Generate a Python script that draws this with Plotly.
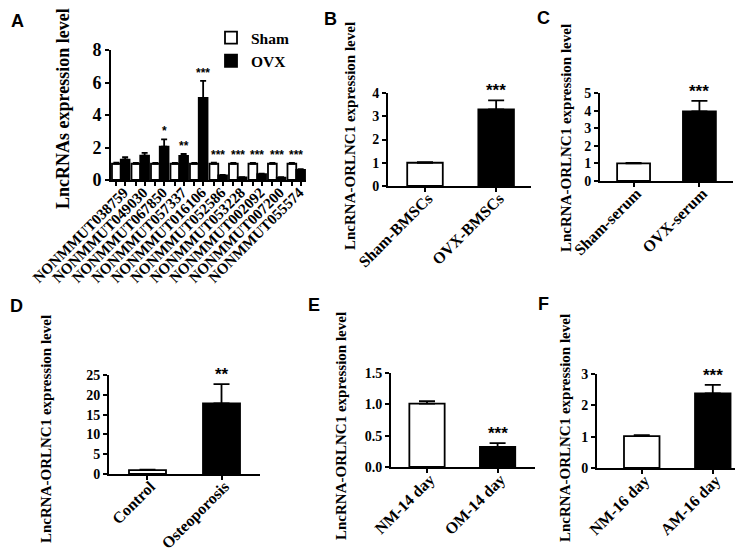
import plotly.graph_objects as go

W, H = 743, 552

# ---------------- data ----------------
lnc_names = ["NONMMUT038759", "NONMMUT049030", "NONMMUT067850", "NONMMUT057337",
             "NONMMUT016106", "NONMMUT052586", "NONMMUT053228", "NONMMUT002092",
             "NONMMUT007200", "NONMMUT055574"]
sham_a = [1.0, 1.0, 1.0, 1.0, 1.0, 1.0, 1.0, 1.0, 1.0, 1.0]
sham_a_err = [0.07, 0.05, 0.05, 0.05, 0.05, 0.07, 0.05, 0.05, 0.05, 0.06]
ovx_a = [1.25, 1.5, 2.05, 1.48, 5.05, 0.29, 0.16, 0.36, 0.15, 0.62]
ovx_a_err = [0.15, 0.17, 0.45, 0.12, 1.05, 0.03, 0.02, 0.03, 0.02, 0.05]
sig_a = ["", "", "*", "**", "***", "***", "***", "***", "***", "***"]

b_cats = ["Sham-BMSCs", "OVX-BMSCs"]
b_vals = [1.0, 3.3]
b_err = [0.03, 0.38]
b_sig = "***"

c_cats = ["Sham-serum", "OVX-serum"]
c_vals = [1.0, 3.95]
c_err = [0.03, 0.6]
c_sig = "***"

d_cats = ["Control", "Osteoporosis"]
d_vals = [1.0, 17.8]
d_err = [0.1, 4.9]
d_sig = "**"

e_cats = ["NM-14 day", "OM-14 day"]
e_vals = [1.01, 0.32]
e_err = [0.04, 0.06]
e_sig = "***"

f_cats = ["NM-16 day", "AM-16 day"]
f_vals = [1.02, 2.38]
f_err = [0.03, 0.27]
f_sig = "***"

ytitle_a = "LncRNAs expression level"
ytitle = "LncRNA-ORLNC1 expression level"

# ---------------- helpers ----------------
def px(x):
    return x / W

def py(y):
    return 1 - y / H

SERIF = "Liberation Serif"
SANS = "Liberation Sans"
BLACK = "#000000"
bar_fill = ["#ffffff", "#000000"]
LW = 1.8

fig = go.Figure()

# ---- Panel A ----
idx = list(range(len(lnc_names)))
fig.add_trace(go.Bar(
    x=idx, y=sham_a, name="Sham", xaxis="x", yaxis="y",
    marker=dict(color="#ffffff", line=dict(color=BLACK, width=LW)),
    error_y=dict(type="data", array=sham_a_err, arrayminus=[0] * len(sham_a),
                 symmetric=False, color=BLACK, thickness=LW, width=3),
))
fig.add_trace(go.Bar(
    x=idx, y=ovx_a, name="OVX", xaxis="x", yaxis="y",
    marker=dict(color="#000000", line=dict(color=BLACK, width=LW)),
    error_y=dict(type="data", array=ovx_a_err, arrayminus=[0] * len(ovx_a),
                 symmetric=False, color=BLACK, thickness=LW, width=3),
))

bargap_a = 0.1
half = (1 - bargap_a) / 4
minor_ticks = []
for i in idx:
    minor_ticks += [i - half, i + half]

# ---- Panels B-F ----
panels = [
    ("x2", "y2", b_cats, b_vals, b_err, b_sig),
    ("x3", "y3", c_cats, c_vals, c_err, c_sig),
    ("x4", "y4", d_cats, d_vals, d_err, d_sig),
    ("x5", "y5", e_cats, e_vals, e_err, e_sig),
    ("x6", "y6", f_cats, f_vals, f_err, f_sig),
]
for xa, ya, cats, vals, errs, sig in panels:
    fig.add_trace(go.Bar(
        x=cats, y=vals, xaxis=xa, yaxis=ya, width=0.5, showlegend=False,
        marker=dict(color=bar_fill, line=dict(color=BLACK, width=LW)),
        error_y=dict(type="data", array=errs, arrayminus=[0] * len(errs),
                     symmetric=False, color=BLACK, thickness=LW, width=8),
    ))

# ---------------- axes ----------------
def axis_style(**kw):
    d = dict(showline=True, linecolor=BLACK, linewidth=LW, ticks="outside",
             ticklen=4, tickwidth=LW, tickcolor=BLACK, showgrid=False,
             zeroline=False, fixedrange=True, automargin=False,
             ticklabeloverflow="allow")
    d.update(kw)
    return d

# pixel boxes: (left, right, top, bottom)
boxA = (103, 298, 42, 172)
boxes = {
    "2": (380, 523, 85, 178),
    "3": (592, 725, 85, 173),
    "4": (101, 252, 367, 466),
    "5": (383, 527, 365, 459),
    "6": (589, 741, 366, 460),
}
xranges = {
    "2": [-0.52, 1.49],
    "3": [-0.51, 1.51],
    "4": [-0.52, 1.52],
    "5": [-0.51, 1.53],
    "6": [-0.63, 1.51],
}
yaxes_cfg = {
    "2": dict(range=[0, 4], dtick=1, tick0=0),
    "3": dict(range=[0, 5], dtick=1, tick0=0),
    "4": dict(range=[0, 25], dtick=5, tick0=0),
    "5": dict(range=[0, 1.5], dtick=0.5, tick0=0, tickformat=".1f"),
    "6": dict(range=[0, 3], dtick=1, tick0=0),
}

layout = dict(
    width=W, height=H, margin=dict(l=0, r=0, t=0, b=0, autoexpand=False),
    paper_bgcolor="white", plot_bgcolor="white",
    barmode="group", bargap=bargap_a, bargroupgap=0,
    showlegend=True,
    legend=dict(x=px(203), y=py(13), xanchor="left", yanchor="top",
                font=dict(family=SERIF, size=15.5, color=BLACK, weight="bold"),
                bgcolor="rgba(0,0,0,0)", traceorder="normal"),
)

l, r, t, b = boxA
layout["xaxis"] = axis_style(
    domain=[px(l), px(r)], anchor="y", type="linear", range=[-0.5, 9.5],
    tickmode="array", tickvals=idx, ticktext=lnc_names, ticks="",
    tickangle=-45, ticklabelstandoff=-4, ticklabelshift=3,
    tickfont=dict(family=SERIF, size=15, color=BLACK, weight="bold"),
    minor=dict(tickmode="array", tickvals=minor_ticks, ticks="outside",
               ticklen=4, tickwidth=LW, tickcolor=BLACK, showgrid=False),
)
layout["yaxis"] = axis_style(
    domain=[py(b), py(t)], anchor="x", range=[0, 8], dtick=2, tick0=0,
    tickfont=dict(family=SERIF, size=18, color=BLACK, weight="bold"),
)

for k, (l, r, t, b) in boxes.items():
    layout["xaxis" + k] = axis_style(
        domain=[px(l), px(r)], anchor="y" + k, type="category",
        range=xranges[k], tickangle=-45, ticklabelstandoff=-9, ticklabelshift=3,
        tickfont=dict(family=SERIF, size=16, color=BLACK, weight="bold"),
    )
    yc = axis_style(
        domain=[py(b), py(t)], anchor="x" + k,
        tickfont=dict(family=SERIF, size=14, color=BLACK, weight="bold"),
    )
    yc.update(yaxes_cfg[k])
    layout["yaxis" + k] = yc

fig.update_layout(**layout)

# ---------------- annotations ----------------
ann = []
# panel letters
for letter, (x, y) in {"A": (9, 13), "B": (322, 11), "C": (535, 10),
                       "D": (8, 298), "E": (306, 297), "F": (535, 296)}.items():
    ann.append(dict(text=letter, x=px(x), y=py(y), xref="paper", yref="paper",
                    xanchor="center", yanchor="middle", showarrow=False,
                    font=dict(family=SANS, size=18, color=BLACK, weight="bold")))

# y titles
ann.append(dict(text=ytitle_a, x=px(55), y=py(101), xref="paper", yref="paper",
                textangle=-90, xanchor="center", yanchor="middle", showarrow=False,
                font=dict(family=SERIF, size=18, color=BLACK, weight="bold")))
for (x, y) in [(342, 128), (558, 130), (38, 421), (333, 418), (557, 420)]:
    ann.append(dict(text=ytitle, x=px(x), y=py(y), xref="paper", yref="paper",
                    textangle=-90, xanchor="center", yanchor="middle", showarrow=False,
                    font=dict(family=SERIF, size=15, color=BLACK, weight="bold")))

# significance stars panel A
for i in idx:
    if not sig_a[i]:
        continue
    top = max(sham_a[i] + sham_a_err[i], ovx_a[i] + ovx_a_err[i])
    off = half if ovx_a[i] > sham_a[i] else 0
    ann.append(dict(text=sig_a[i], x=i + off, y=top, xref="x", yref="y",
                    xanchor="center", yanchor="bottom", yshift=-1, showarrow=False,
                    font=dict(family=SANS, size=12, color=BLACK, weight="bold")))

# significance stars panels B-F
for xa, ya, cats, vals, errs, sig in panels:
    ann.append(dict(text=sig, x=cats[1], y=vals[1] + errs[1], xref=xa, yref=ya,
                    xanchor="center", yanchor="bottom", yshift=-2, showarrow=False,
                    font=dict(family=SANS, size=17, color=BLACK, weight="bold")))

fig.update_layout(annotations=ann)

fig.write_html("out.html")
